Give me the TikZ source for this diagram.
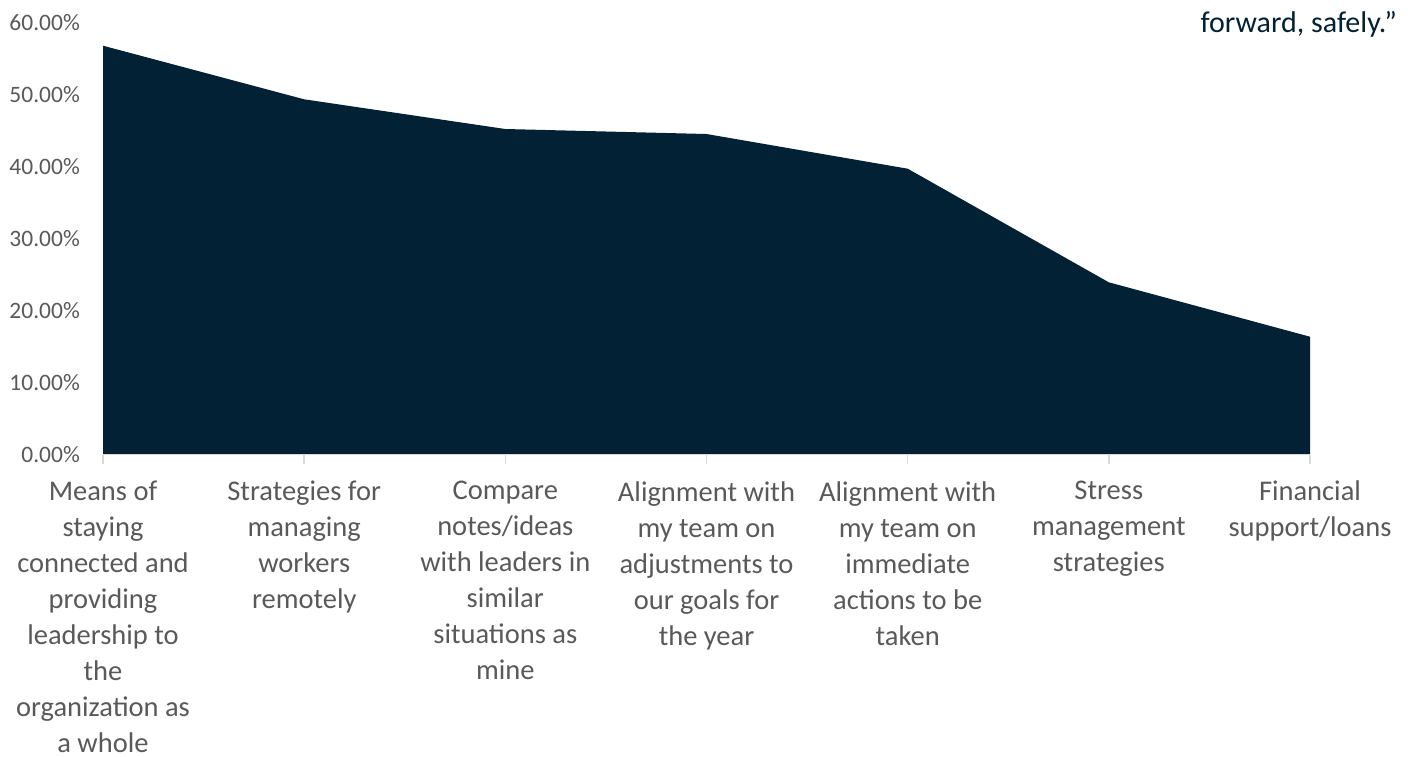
\documentclass[tikz,border=0pt]{standalone}
\usepackage{fontspec}
\setmainfont{Carlito}
\definecolor{navy}{RGB}{3,33,52}
\definecolor{labelgrey}{RGB}{89,89,89}
\definecolor{axisgrey}{RGB}{217,217,217}
\begin{document}
\begin{tikzpicture}[x=1pt,y=-1pt,
  ylab/.style={anchor=east,inner sep=0pt,text=labelgrey,font=\fontsize{23.5}{28}\selectfont},
  catlab/.style={anchor=north,inner sep=0pt,align=center,text=labelgrey,font=\fontsize{28.5}{36}\selectfont},
  axisline/.style={draw=axisgrey,line width=1.5pt},
  areafill/.style={fill=navy,draw=none}]
\useasboundingbox (0,0) rectangle (1408,756);
% y axis labels
\foreach \v [count=\i from 0] in {0.00,10.00,20.00,30.00,40.00,50.00,60.00}{
  \node[ylab] (y\i) at (80,{454.5-72*\i}) {\v\%};
}
% data points
\coordinate (b1) at (103,454.5);
\coordinate (b7) at (1310,454.5);
\coordinate (p1) at (103,45.7);
\coordinate (p2) at (304.2,99.3);
\coordinate (p3) at (505.3,129);
\coordinate (p4) at (706.5,134);
\coordinate (p5) at (907.7,168.7);
\coordinate (p6) at (1108.8,282.3);
\coordinate (p7) at (1310,336.7);
\fill[areafill] (b1) -- (p1) -- (p2) -- (p3) -- (p4) -- (p5) -- (p6) -- (p7) -- (b7) -- cycle;
% axis
\draw[axisline] (b1) -- (b7);
\foreach \i in {1,...,7}{
  \coordinate (t\i) at ({103+201.17*(\i-1)},454.5);
  \draw[axisline] (t\i) -- ++(0,9);
}
% category labels
\node[catlab] (c1) at (103,481) {Means of\\staying\\connected and\\providing\\leadership to\\the\\organization as\\a whole};
\node[catlab] (c2) at (304.2,481) {Strategies for\\managing\\workers\\remotely};
\node[catlab] (c3) at (505.3,481) {Compare\\notes/ideas\\with leaders in\\similar\\situations as\\mine};
\node[catlab] (c4) at (706.5,481) {Alignment with\\my team on\\adjustments to\\our goals for\\the year};
\node[catlab] (c5) at (907.7,481) {Alignment with\\my team on\\immediate\\actions to be\\taken};
\node[catlab] (c6) at (1108.8,481) {Stress\\management\\strategies};
\node[catlab] (c7) at (1310,481) {Financial\\support/loans};
% quote fragment
\node[anchor=base east,inner sep=0pt,text=navy,font=\fontsize{30}{35}\selectfont] (q) at (1397,32) {forward, safely.”};
\end{tikzpicture}
\end{document}
